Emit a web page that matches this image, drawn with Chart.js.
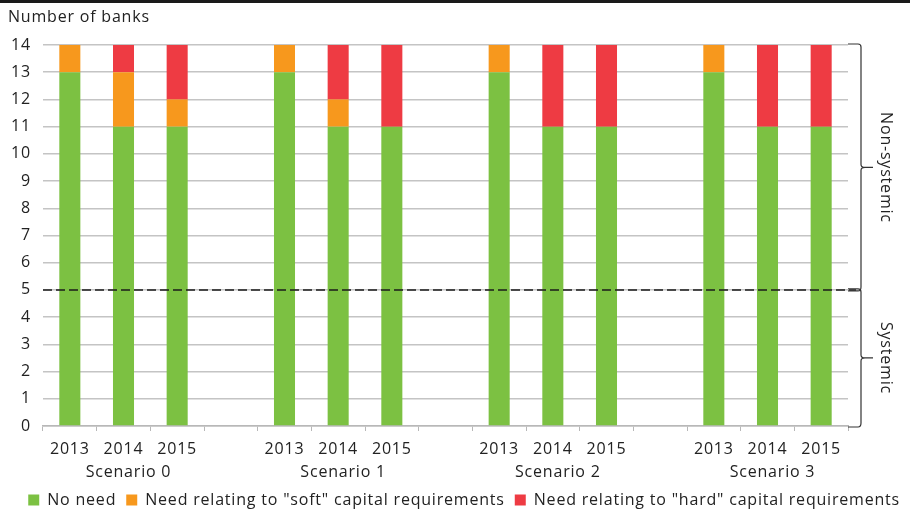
<!DOCTYPE html>
<html>
<head>
<meta charset="utf-8">
<script src="https://cdn.jsdelivr.net/npm/chart.js@4/dist/chart.umd.min.js"></script>
<style>
  html, body { margin: 0; padding: 0; background: #fff; }
  #wrap { position: relative; width: 910px; height: 513px; }
  #topRule { position: absolute; left: 0; top: 0; width: 910px; height: 3px; background: #1a1a1a; }
  #unidad { position: absolute; left: 8px; top: 5px; font: 16px "Open Sans", sans-serif; letter-spacing: 0.8px; color: #222; }
</style>
</head>
<body>
<div id="wrap">
  <div id="topRule"></div>
  <div id="unidad">Number of banks</div>
  <canvas id="grafica" width="910" height="513"></canvas>
</div>
<script>
// categorias: 3 años por escenario, con un hueco vacio entre escenarios
const anios = ['2013', '2014', '2015', '', '2013', '2014', '2015', '', '2013', '2014', '2015', '', '2013', '2014', '2015'];
const escenarios = ['Scenario 0', 'Scenario 1', 'Scenario 2', 'Scenario 3'];

const sinNecesidad = [13, 11, 11, null, 13, 11, 11, null, 13, 11, 11, null, 13, 11, 11];
const necesidadSoft = [1, 2, 1, null, 1, 1, 0, null, 1, 0, 0, null, 1, 0, 0];
const necesidadHard = [0, 1, 2, null, 0, 2, 3, null, 0, 3, 3, null, 0, 3, 3];

const umbralSistemico = 5;
const maxBancos = 14;

const fuente = '"Open Sans", sans-serif';
const textoColor = '#222';
const espaciado = '0.8px';

// la fuente original es algo mas ancha: se abre el espaciado de letras
const espaciadoLetras = {
  id: 'espaciadoLetras',
  beforeUpdate(chart) { chart.ctx.letterSpacing = espaciado; },
  beforeDraw(chart) { chart.ctx.letterSpacing = espaciado; }
};

// linea discontinua, llaves y rotulos de escenario
const extras = {
  id: 'extras',
  afterDatasetsDraw(chart) {
    const c = chart.ctx;
    const x = chart.scales.x;
    const y = chart.scales.y;
    const area = chart.chartArea;
    const y5 = y.getPixelForValue(umbralSistemico);
    const yTop = y.getPixelForValue(maxBancos);
    const y0 = y.getPixelForValue(0);

    c.save();
    c.strokeStyle = '#1a1a1a';
    c.lineWidth = 1.6;
    c.setLineDash([9, 4]);
    c.beginPath();
    c.moveTo(area.left, y5);
    c.lineTo(area.right + 8, y5);
    c.stroke();
    c.setLineDash([]);

    // llaves a la derecha
    const bx = area.right + 13;
    function llave(a, b) {
      const mid = (a + b) / 2;
      c.beginPath();
      c.moveTo(area.right, a - 1);
      c.lineTo(bx - 3, a - 1);
      c.quadraticCurveTo(bx, a - 1, bx, a + 2);
      c.lineTo(bx, mid - 3);
      c.quadraticCurveTo(bx, mid, bx + 4, mid);
      c.lineTo(bx + 12, mid);
      c.moveTo(bx + 4, mid);
      c.quadraticCurveTo(bx, mid, bx, mid + 3);
      c.lineTo(bx, b - 3);
      c.quadraticCurveTo(bx, b + 1, bx - 3, b + 1);
      c.lineTo(area.right, b + 1);
      c.stroke();
    }
    c.lineWidth = 1.2;
    c.strokeStyle = '#333';
    llave(yTop, y5);
    llave(y5, y0);

    c.fillStyle = textoColor;
    c.font = '16px ' + fuente;
    c.textAlign = 'center';
    c.textBaseline = 'middle';
    [['Non-systemic', (yTop + y5) / 2], ['Systemic', (y5 + y0) / 2]].forEach(([t, py]) => {
      c.save();
      c.translate(bx + 25, py);
      c.rotate(Math.PI / 2);
      c.fillText(t, 0, 0);
      c.restore();
    });

    // rotulos de escenario bajo el año central
    c.textBaseline = 'middle';
    escenarios.forEach((e, i) => {
      c.fillText(e, x.getPixelForValue(i * 4 + 1) + 5, y0 + 46);
    });
    c.restore();
  }
};

const ctx = document.getElementById('grafica').getContext('2d');
const chart = new Chart(ctx, {
  type: 'bar',
  data: {
    labels: anios,
    datasets: [
      { label: 'No need', data: sinNecesidad, backgroundColor: '#7cc142' },
      { label: 'Need relating to "soft" capital requirements', data: necesidadSoft, backgroundColor: '#f7981d' },
      { label: 'Need relating to "hard" capital requirements', data: necesidadHard, backgroundColor: '#ee3b43' }
    ]
  },
  options: {
    responsive: false,
    animation: false,
    barPercentage: 0.8,
    categoryPercentage: 0.49,
    layout: { padding: { top: 45, right: 0, left: 0, bottom: -5 } },
    plugins: {
      tooltip: { enabled: false },
      legend: {
        position: 'bottom',
        align: 'end',
        labels: {
          boxWidth: 11,
          boxHeight: 11,
          padding: 10,
          color: textoColor,
          font: { family: fuente, size: 16 }
        }
      }
    },
    scales: {
      x: {
        stacked: true,
        afterFit: s => { s.height = 56; },
        grid: { offset: true, drawOnChartArea: false, drawTicks: true, tickLength: 5, color: '#b8b8b8' },
        border: { color: '#b8b8b8', width: 1.5 },
        ticks: { color: textoColor, font: { family: fuente, size: 16 }, maxRotation: 0, autoSkip: false, padding: 9 }
      },
      y: {
        stacked: true,
        min: 0,
        max: maxBancos,
        afterFit: s => { s.width = 43; },
        grid: { color: '#c4c4c4', lineWidth: 1.5, drawTicks: false },
        border: { display: false },
        ticks: {
          stepSize: 1,
          color: textoColor,
          font: { family: fuente, size: 16 },
          padding: 12
        }
      },
      // eje vacio a la derecha que reserva sitio para las llaves
      margenDerecho: {
        position: 'right',
        min: 0,
        max: 1,
        afterFit: s => { s.width = 62; },
        grid: { display: false },
        border: { display: false },
        ticks: { display: false }
      }
    }
  },
  plugins: [espaciadoLetras, extras]
});
</script>
</body>
</html>
